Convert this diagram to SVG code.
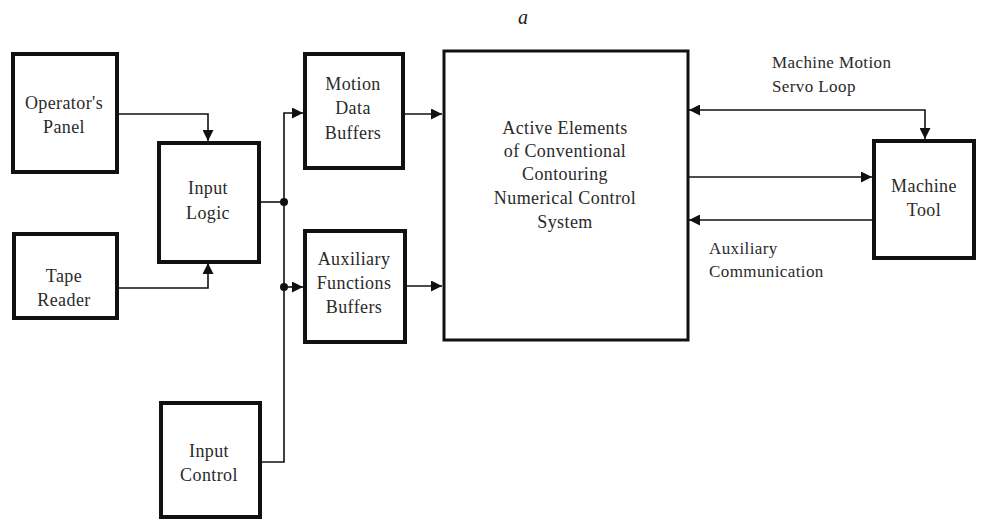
<svg xmlns="http://www.w3.org/2000/svg" width="989" height="521" viewBox="0 0 989 521">
<defs>
<style>
.box{fill:#fff;stroke:#111;stroke-width:4}
.big{fill:#fff;stroke:#111;stroke-width:3}
.t{font-family:"Liberation Serif",serif;font-size:18px;fill:#2a2a2a;text-anchor:middle;letter-spacing:0.4px}
.l{font-family:"Liberation Serif",serif;font-size:17px;fill:#2a2a2a;letter-spacing:0.4px}
.c{fill:none;stroke:#111;stroke-width:1.6}
</style>
<marker id="ah" viewBox="0 0 10 10" refX="10" refY="5" markerWidth="11" markerHeight="11" markerUnits="userSpaceOnUse" orient="auto-start-reverse">
<path d="M0,0 L10,5 L0,10 Z" fill="#111"/>
</marker>
</defs>
<rect width="989" height="521" fill="#fff"/>
<text x="523" y="24" style="font-family:'Liberation Serif',serif;font-size:20px;font-style:italic;fill:#222" text-anchor="middle">a</text>

<g id="connectors">
<path class="c" d="M117,114 H208 V141" marker-end="url(#ah)"/>
<path class="c" d="M117,288 H208 V263" marker-end="url(#ah)"/>
<path class="c" d="M259,202 H283"/>
<path class="c" d="M260,462 H284 V113 H303" marker-end="url(#ah)"/>
<path class="c" d="M284,287 H303" marker-end="url(#ah)"/>
<circle cx="284" cy="202" r="4" fill="#111"/>
<circle cx="284" cy="287" r="4" fill="#111"/>
<path class="c" d="M403,114 H442" marker-end="url(#ah)"/>
<path class="c" d="M405,286 H442" marker-end="url(#ah)"/>
<path class="c" d="M925,139 V110 H689" marker-start="url(#ah)" marker-end="url(#ah)"/>
<path class="c" d="M689,177 H872" marker-end="url(#ah)"/>
<path class="c" d="M873,220 H689" marker-end="url(#ah)"/>
</g>

<g id="operators-panel">
<rect class="box" x="13" y="54" width="104" height="118"/>
<text class="t" x="64" y="109">Operator's</text>
<text class="t" x="64" y="133">Panel</text>
</g>
<g id="input-logic">
<rect class="box" x="159" y="143" width="100" height="119"/>
<text class="t" x="208" y="194">Input</text>
<text class="t" x="208" y="219">Logic</text>
</g>
<g id="tape-reader">
<rect class="box" x="14" y="234" width="103" height="84"/>
<text class="t" x="64" y="282">Tape</text>
<text class="t" x="64" y="306">Reader</text>
</g>
<g id="input-control">
<rect class="box" x="161" y="403" width="99" height="114"/>
<text class="t" x="209" y="457">Input</text>
<text class="t" x="209" y="481">Control</text>
</g>
<g id="motion-data-buffers">
<rect class="box" x="305" y="54" width="98" height="114"/>
<text class="t" x="353" y="90">Motion</text>
<text class="t" x="353" y="114">Data</text>
<text class="t" x="353" y="139">Buffers</text>
</g>
<g id="auxiliary-functions-buffers">
<rect class="box" x="305" y="231" width="100" height="111"/>
<text class="t" x="354" y="265">Auxiliary</text>
<text class="t" x="354" y="289">Functions</text>
<text class="t" x="354" y="313">Buffers</text>
</g>
<g id="nc-system">
<rect class="big" x="444" y="51" width="244" height="289"/>
<text class="t" x="565" y="134">Active Elements</text>
<text class="t" x="565" y="157">of Conventional</text>
<text class="t" x="565" y="180">Contouring</text>
<text class="t" x="565" y="204">Numerical Control</text>
<text class="t" x="565" y="228">System</text>
</g>
<g id="machine-tool">
<rect class="box" x="874" y="141" width="100" height="117"/>
<text class="t" x="924" y="192">Machine</text>
<text class="t" x="924" y="216">Tool</text>
</g>
<g id="labels">
<text class="l" x="772" y="68">Machine Motion</text>
<text class="l" x="772" y="92">Servo Loop</text>
<text class="l" x="709" y="254">Auxiliary</text>
<text class="l" x="709" y="277">Communication</text>
</g>
</svg>
